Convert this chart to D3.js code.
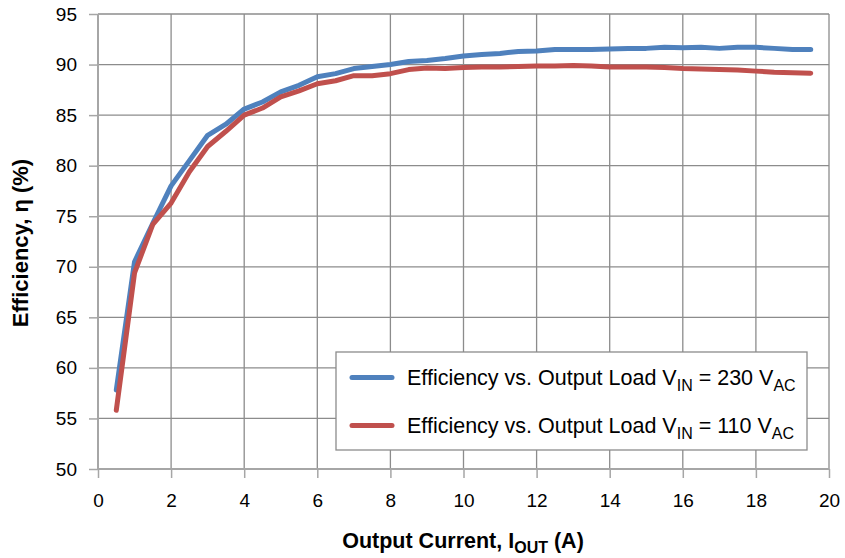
<!DOCTYPE html>
<html><head><meta charset="utf-8">
<script src="https://cdn.jsdelivr.net/npm/d3@7"></script>
<style>body{margin:0;background:#fff;} text{font-family:"Liberation Sans",Arial,Helvetica,sans-serif;fill:#000;}</style>
</head><body>
<svg id="chart" width="845" height="558"></svg>
<script>
const current = [0.5,1,1.5,2,2.5,3,3.5,4,4.5,5,5.5,6,6.5,7,7.5,8,8.5,9,9.5,10,10.5,11,11.5,12,12.5,13,13.5,14,14.5,15,15.5,16,16.5,17,17.5,18,18.5,19,19.5];
const eff230 = [57.8,70.5,74.3,78.0,80.5,83.0,84.1,85.6,86.3,87.3,87.95,88.8,89.1,89.6,89.8,90.0,90.3,90.4,90.6,90.85,91.0,91.1,91.3,91.35,91.5,91.5,91.5,91.55,91.6,91.6,91.7,91.65,91.7,91.6,91.7,91.7,91.6,91.5,91.5];
const eff110 = [55.8,69.4,74.2,76.3,79.4,81.9,83.4,85.0,85.7,86.8,87.4,88.1,88.4,88.9,88.9,89.1,89.5,89.65,89.6,89.7,89.75,89.75,89.8,89.85,89.85,89.9,89.85,89.75,89.75,89.75,89.7,89.6,89.55,89.5,89.45,89.35,89.25,89.2,89.15];
const xTicks = [0,2,4,6,8,10,12,14,16,18,20];
const yTicks = [50,55,60,65,70,75,80,85,90,95];
const seriesNames = ["Efficiency vs. Output Load V|IN| = 230 V|AC", "Efficiency vs. Output Load V|IN| = 110 V|AC"];
const colors = ["#4F81BD", "#C0504D"];

const svg = d3.select("#chart");
const L = 98, R = 829, T = 14, B = 469;
const x = d3.scaleLinear().domain([0,20]).range([L,R]);
const y = d3.scaleLinear().domain([50,95]).range([B,T]);

// grid
const g = svg.append("g");
g.selectAll(".vg").data(xTicks.slice(1)).join("line")
  .attr("x1", d=>x(d)).attr("x2", d=>x(d)).attr("y1", T).attr("y2", B)
  .attr("stroke", "#8c8c8c").attr("stroke-width", 1.3);
g.selectAll(".hg").data(yTicks.slice(1)).join("line")
  .attr("x1", L).attr("x2", R).attr("y1", d=>y(d)).attr("y2", d=>y(d))
  .attr("stroke", "#8c8c8c").attr("stroke-width", 1.3);

// axes
const xAxis = d3.axisBottom(x).tickValues(xTicks).tickSize(9).tickPadding(16);
const yAxis = d3.axisLeft(y).tickValues(yTicks).tickSize(9).tickPadding(12);
const gx = svg.append("g").attr("transform", `translate(0,${B})`).call(xAxis);
const gy = svg.append("g").attr("transform", `translate(${L},0)`).call(yAxis);
[gx, gy].forEach(a => {
  a.select(".domain").attr("stroke", "#a6a6a6").attr("stroke-width", 2);
  a.selectAll(".tick line").attr("stroke", "#a6a6a6").attr("stroke-width", 1.5);
  a.selectAll(".tick text").attr("font-size", 19).attr("fill", "#000")
    .style("font-family", "'Liberation Sans',Arial,sans-serif");
});
gx.select(".domain").attr("d", `M${L},0H${R}`);
gy.select(".domain").attr("d", `M0,${B}V${T}`);

// lines
const line = d3.line().x(d=>x(d[0])).y(d=>y(d[1]));
[eff230, eff110].forEach((s,i) => {
  svg.append("path").datum(current.map((c,j)=>[c,s[j]]))
    .attr("d", line).attr("fill","none").attr("stroke", colors[i])
    .attr("stroke-width", 5).attr("stroke-linejoin","round").attr("stroke-linecap","round");
});

// legend
const lg = svg.append("g");
lg.append("rect").attr("x", 336).attr("y", 352).attr("width", 471).attr("height", 98)
  .attr("fill", "#fff").attr("stroke", "#8c8c8c").attr("stroke-width", 1.3);
seriesNames.forEach((nm, i) => {
  const yy = 377.5 + i*48;
  lg.append("line").attr("x1", 352).attr("x2", 392).attr("y1", yy).attr("y2", yy)
    .attr("stroke", colors[i]).attr("stroke-width", 5).attr("stroke-linecap","round");
  const parts = nm.split("|");
  const t = lg.append("text").attr("x", 407).attr("y", yy + 7).attr("font-size", 21.5);
  parts.forEach((p, k) => {
    const ts = t.append("tspan").text(p);
    if (k % 2 === 1) ts.attr("font-size", 16).attr("dy", 6);
    else if (k > 0) ts.attr("dy", -6);
  });
});

// axis titles
svg.append("text").attr("transform", "translate(28,243) rotate(-90)")
  .attr("text-anchor","middle").attr("font-size", 22).attr("font-weight","bold")
  .text("Efficiency, η (%)");
const xt = svg.append("text").attr("x", 463).attr("y", 548)
  .attr("text-anchor","middle").attr("font-size", 21.5).attr("font-weight","bold");
xt.append("tspan").text("Output Current, I");
xt.append("tspan").text("OUT").attr("font-size", 16).attr("dy", 5);
xt.append("tspan").text(" (A)").attr("dy", -5);
</script>
</body></html>
